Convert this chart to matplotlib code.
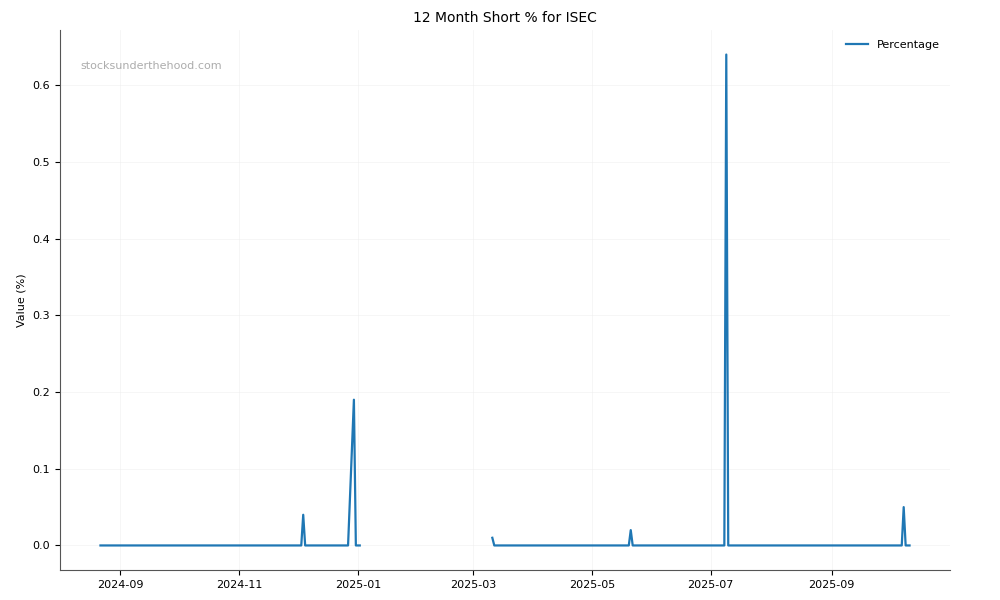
import matplotlib
matplotlib.use("Agg")
import matplotlib.pyplot as plt
import matplotlib.dates as mdates
import numpy as np
import pandas as pd

# data segments, short % is zero apart from a few spikes
segment_starts = ["2024-08-22", "2025-03-11"]
segment_ends = ["2025-01-02", "2025-10-11"]
spike_dates = ["2024-12-04", "2024-12-30", "2025-03-11", "2025-05-21", "2025-07-09", "2025-10-08"]
spike_values = [0.04, 0.19, 0.01, 0.02, 0.64, 0.05]

full_index = pd.bdate_range(segment_starts[0], segment_ends[-1])
full_index = full_index.union(pd.DatetimeIndex(segment_starts + segment_ends))
series = pd.Series(np.nan, index=full_index)
for s, e in zip(segment_starts, segment_ends):
    series[(series.index >= s) & (series.index <= e)] = 0.0
for d, v in zip(spike_dates, spike_values):
    series[pd.Timestamp(d)] = v

fig, ax = plt.subplots(figsize=(10, 6), dpi=100)
fig.subplots_adjust(left=0.06, right=0.95, top=0.95, bottom=0.05)

ax.plot(series.index, series.values, color="#1f77b4", linewidth=1.6, label="Percentage")

ax.set_title("12 Month Short % for ISEC", fontsize=10)
ax.set_ylabel("Value (%)", fontsize=8)
ax.tick_params(labelsize=8)
ax.grid(True, color="#eeeeee", linewidth=0.6, alpha=0.6)
ax.spines["top"].set_visible(False)
ax.spines["right"].set_visible(False)
ax.spines["left"].set_color("#555555")
ax.spines["bottom"].set_color("#555555")

ax.xaxis.set_major_locator(mdates.MonthLocator(bymonth=[1, 3, 5, 7, 9, 11]))
ax.xaxis.set_major_formatter(mdates.DateFormatter("%Y-%m"))

ax.text(0.023, 0.928, "stocksunderthehood.com", transform=ax.transAxes,
        fontsize=8, color="gray", alpha=0.65)
ax.legend(loc="upper right", frameon=False, fontsize=8)

plt.savefig("out.png", dpi=100)
